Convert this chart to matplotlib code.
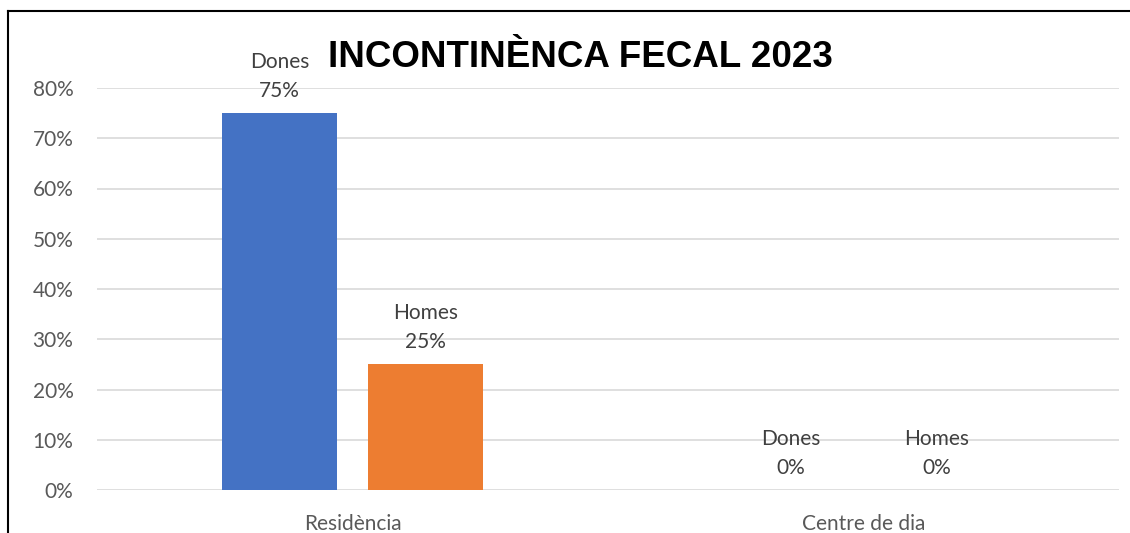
#imports
import matplotlib
matplotlib.use('Agg')
import matplotlib.pyplot as plt
from matplotlib.lines import Line2D
import numpy as np

#chart data
categories = ['Residència', 'Centre de dia']
series_names = ['Dones', 'Homes']
dones = [0.75, 0.0]
homes = [0.25, 0.0]
y_ticks = [0, 0.1, 0.2, 0.3, 0.4, 0.5, 0.6, 0.7, 0.8]
title = 'INCONTINÈNCA FECAL 2023'

colors = ['#4472C4', '#ED7D31']
text_grey = '#595959'

plt.rcParams['font.family'] = ['Lato', 'DejaVu Sans']

fig = plt.figure(figsize=(11.3, 5.33), dpi=100)
ax = fig.add_axes([97/1130, 43/533, (1119-97)/1130, (490-88)/533])

x = np.arange(len(categories))
width = 0.225
offset = 0.143

for i, (vals, name) in enumerate(zip([dones, homes], series_names)):
    pos = x + (-offset if i == 0 else offset)
    ax.bar(pos, vals, width, color=colors[i], zorder=3)
    #data labels: series name and value
    for p, v in zip(pos, vals):
        ax.annotate(name + '\n' + '{:.0%}'.format(v), (p, v), xytext=(0, 9),
                    textcoords='offset points', ha='center', va='bottom',
                    fontsize=15, color='#404040', linespacing=1.55)

ax.set_xlim(-0.5, 1.5)
ax.set_ylim(0, 0.8)
ax.set_yticks(y_ticks)
ax.set_yticklabels(['{:.0%}'.format(t) for t in y_ticks])
ax.set_xticks(x)
ax.set_xticklabels(categories)
ax.tick_params(axis='both', length=0, labelsize=15, colors=text_grey)
ax.tick_params(axis='y', pad=17)
ax.tick_params(axis='x', pad=17)
ax.grid(axis='y', color='#D9D9D9', linewidth=1.2, zorder=0)
for s in ax.spines.values():
    s.set_visible(False)

fig.text(580/1130, 1 - 67/533, title, ha='center', va='baseline',
         fontsize=26.5, fontweight='bold', family='Liberation Sans', color='black')

#outer border (left and top only)
fig.add_artist(Line2D([8/1130, 8/1130], [0, 1 - 11/533], color='black', linewidth=1.5, transform=fig.transFigure))
fig.add_artist(Line2D([8/1130, 1], [1 - 11/533, 1 - 11/533], color='black', linewidth=1.5, transform=fig.transFigure))

fig.savefig('out.png', dpi=100)
